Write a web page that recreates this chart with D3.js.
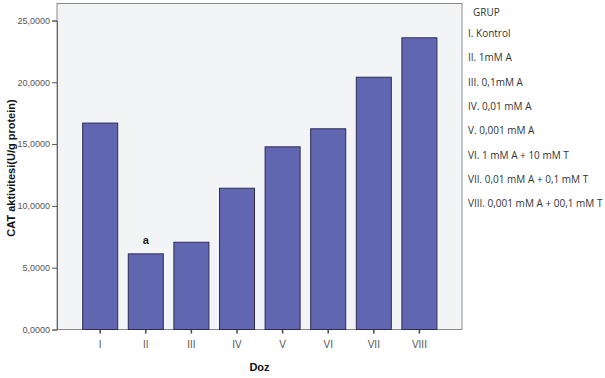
<!DOCTYPE html>
<html>
<head>
<meta charset="utf-8">
<script src="https://cdn.jsdelivr.net/npm/d3@7"></script>
<style>
  html, body { margin: 0; padding: 0; background: #ffffff; }
  svg { display: block; font-family: "Liberation Sans", Arial, sans-serif; }
</style>
</head>
<body>
<svg id="chart" width="605" height="378"></svg>
<script>
// Dose groups and mean CAT activity (U/g protein)
const categories = ["I", "II", "III", "IV", "V", "VI", "VII", "VIII"];
const values = [16.70, 6.12, 7.06, 11.43, 14.78, 16.24, 20.41, 23.60];
const yTicks = [0, 5, 10, 15, 20, 25];
const annotations = [{ group: "II", text: "a" }];
const legendTitle = "GRUP";
const legendItems = [
  "I. Kontrol",
  "II. 1mM A",
  "III. 0,1mM A",
  "IV. 0,01 mM A",
  "V. 0,001 mM A",
  "VI. 1 mM A + 10 mM T",
  "VII. 0,01 mM A + 0,1 mM T",
  "VIII. 0,001 mM A + 00,1 mM T"
];

const svg = d3.select("#chart");
const frame = { left: 57, top: 3.5, right: 462, bottom: 329.5 };

const trLocale = d3.formatLocale({ decimal: ",", thousands: ".", grouping: [3], currency: ["", ""] });
const fmt = trLocale.format(".4f");

const x = d3.scaleBand()
  .domain(categories)
  .range([72.1, 447.5])
  .padding(0.232);

const y = d3.scaleLinear()
  .domain([0, 25])
  .range([329.5, 20.5]);

// plot background and frame
svg.append("rect")
  .attr("x", frame.left).attr("y", frame.top)
  .attr("width", frame.right - frame.left)
  .attr("height", frame.bottom - frame.top)
  .attr("fill", "#f3f4f6")
  .attr("stroke", "#8a8a8a")
  .attr("stroke-width", 1);

// bars
svg.append("g").selectAll("rect")
  .data(categories)
  .join("rect")
  .attr("x", d => x(d))
  .attr("y", (d, i) => y(values[i]))
  .attr("width", x.bandwidth())
  .attr("height", (d, i) => y(0) - y(values[i]))
  .attr("fill", "#6067b0")
  .attr("stroke", "#2b2b55")
  .attr("stroke-width", 1);

// y axis
const yAxis = svg.append("g")
  .attr("transform", `translate(${frame.left},0)`)
  .call(d3.axisLeft(y).tickValues(yTicks).tickFormat(fmt).tickSize(5).tickPadding(2));
yAxis.select(".domain").attr("stroke", "#6a6a6a");
yAxis.selectAll(".tick line").attr("stroke", "#555");
yAxis.selectAll(".tick text")
  .attr("fill", "#555")
  .style("font-size", "9px")
  .style("font-family", "'Liberation Sans', Arial, sans-serif");

// x axis
const xAxis = svg.append("g")
  .attr("transform", `translate(0,${frame.bottom})`)
  .call(d3.axisBottom(x).tickSize(4).tickPadding(7));
xAxis.select(".domain").remove();
xAxis.selectAll(".tick line").attr("stroke", "#444").attr("stroke-width", 1.5);
xAxis.selectAll(".tick text")
  .attr("fill", "#555")
  .style("font-size", "10px")
  .style("font-family", "'Liberation Sans', Arial, sans-serif");

// significance mark
svg.append("g").selectAll("text")
  .data(annotations)
  .join("text")
  .attr("x", d => x(d.group) + x.bandwidth() / 2)
  .attr("y", d => y(values[categories.indexOf(d.group)]) - 10)
  .attr("text-anchor", "middle")
  .attr("fill", "#222")
  .style("font-size", "11px")
  .style("font-weight", "bold")
  .text(d => d.text);

// axis titles
svg.append("text")
  .attr("transform", "translate(15,168) rotate(-90)")
  .attr("text-anchor", "middle")
  .attr("fill", "#111")
  .style("font-size", "11px")
  .style("font-weight", "bold")
  .text("CAT aktivitesi(U/g protein)");

svg.append("text")
  .attr("x", (frame.left + frame.right) / 2)
  .attr("y", 371)
  .attr("text-anchor", "middle")
  .attr("fill", "#111")
  .style("font-size", "11px")
  .style("font-weight", "bold")
  .text("Doz");

// group legend
const legend = svg.append("g").style("font-family", "'Open Sans', 'Liberation Sans', sans-serif");
legend.append("text")
  .attr("x", 473).attr("y", 16)
  .attr("fill", "#333")
  .style("font-size", "10px")
  .text(legendTitle);
legend.selectAll("text.item")
  .data(legendItems)
  .join("text")
  .attr("class", "item")
  .attr("x", 468)
  .attr("y", (d, i) => 37 + i * 24.3)
  .attr("fill", "#333")
  .style("font-size", "10px")
  .text(d => d);
</script>
</body>
</html>
